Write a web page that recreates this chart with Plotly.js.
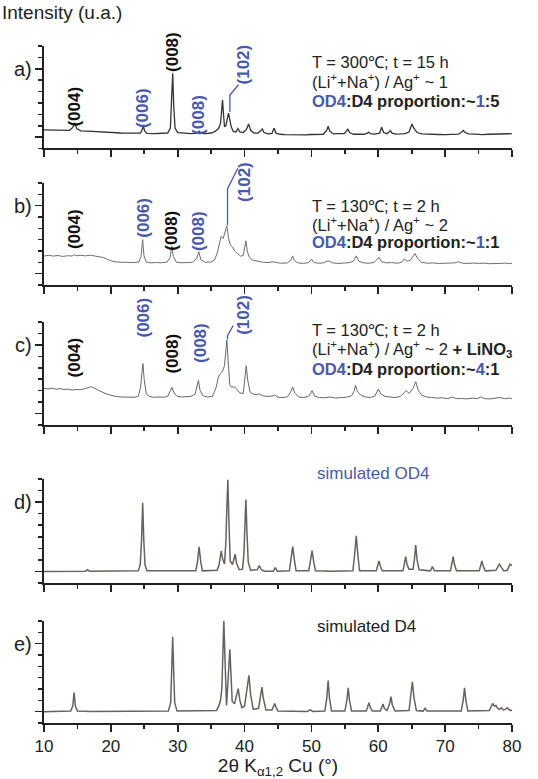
<!DOCTYPE html>
<html>
<head>
<meta charset="utf-8">
<script src="https://cdn.plot.ly/plotly-3.0.1.min.js"></script>
<style>html,body{margin:0;padding:0;background:#fff;}#chart{width:538px;height:779px;}</style>
</head>
<body>
<div id="chart"></div>
<script>
// ---- data (2θ, intensity in arbitrary stacked units) ----
const xTicks = [10, 20, 30, 40, 50, 60, 70, 80];
const panelLetters = ['a)', 'b)', 'c)', 'd)', 'e)'];

const patternA = [[10,0.64],[11,0.62],[12,0.63],[13,0.58],[13.8,0.6],[14.3,0.85],[14.6,1.25],[14.9,0.75],[15.5,0.55],[16.5,0.52],[17.5,0.48],[18.5,0.46],[19.5,0.42],[20.5,0.4],[21.5,0.36],[22.5,0.35],[23.5,0.33],[24.4,0.36],[24.65,0.6],[24.85,1.0],[25.05,0.55],[25.4,0.33],[26.5,0.3],[27.5,0.31],[28.5,0.36],[28.9,0.8],[29.1,3.2],[29.25,5.6],[29.4,2.8],[29.6,0.8],[30,0.4],[31,0.32],[32,0.3],[32.9,0.35],[33.2,0.52],[33.5,0.33],[34.2,0.3],[35,0.36],[35.6,0.5],[36.1,0.75],[36.4,1.2],[36.55,2.2],[36.7,3.28],[36.85,2.0],[37.0,0.9],[37.2,1.0],[37.4,1.5],[37.6,2.1],[37.8,1.5],[38.0,0.9],[38.3,0.5],[38.7,0.45],[39.0,0.75],[39.3,0.45],[39.8,0.4],[40.3,0.7],[40.6,1.16],[40.9,0.6],[41.4,0.35],[42.0,0.35],[42.4,0.55],[42.65,0.72],[42.9,0.4],[43.5,0.28],[44.1,0.32],[44.4,0.78],[44.7,0.35],[45.3,0.25],[46,0.22],[47,0.2],[48,0.22],[49,0.2],[50,0.23],[51,0.24],[51.8,0.25],[52.3,0.6],[52.5,0.96],[52.75,0.5],[53.3,0.28],[54,0.3],[54.9,0.3],[55.2,0.5],[55.45,0.72],[55.7,0.4],[56.3,0.25],[57,0.27],[57.8,0.25],[58.3,0.32],[58.55,0.43],[58.8,0.3],[59.5,0.26],[60.2,0.35],[60.5,0.87],[60.8,0.4],[61.3,0.3],[61.6,0.45],[61.8,0.58],[62.05,0.35],[62.6,0.27],[63.3,0.28],[64,0.3],[64.6,0.45],[64.9,1.0],[65.05,1.16],[65.3,0.8],[65.8,0.4],[66.5,0.28],[67.2,0.25],[68,0.22],[69,0.23],[70,0.22],[71,0.25],[72,0.27],[72.4,0.4],[72.7,0.58],[73,0.4],[73.5,0.28],[74.5,0.26],[75.5,0.22],[76.5,0.25],[77.5,0.27],[78.5,0.24],[79.5,0.27],[80,0.3]];

const patternB = [[10,1.55],[10.7,1.62],[11.4,1.55],[12.1,1.6],[12.8,1.52],[13.5,1.58],[14.2,1.56],[14.5,1.68],[14.8,1.58],[15.5,1.62],[16.2,1.57],[16.9,1.63],[17.6,1.56],[18.3,1.52],[18.9,1.42],[19.5,1.25],[20.2,1.1],[21,1.02],[21.8,1.0],[22.6,0.96],[23.4,0.98],[24.2,1.02],[24.5,1.5],[24.76,3.0],[24.95,1.6],[25.3,1.02],[26,0.95],[26.8,0.98],[27.6,0.96],[28.4,1.02],[28.85,1.4],[29.1,2.43],[29.35,1.5],[29.8,1.02],[30.6,0.96],[31.4,0.98],[32.2,1.0],[32.85,1.35],[33.15,1.94],[33.45,1.25],[34.1,1.0],[34.9,1.02],[35.5,1.2],[35.9,1.8],[36.2,2.7],[36.5,3.29],[36.8,3.1],[37.1,3.7],[37.35,4.23],[37.6,3.1],[37.9,2.5],[38.2,2.35],[38.6,1.95],[39.0,1.75],[39.4,1.55],[39.8,1.6],[40.05,2.3],[40.2,2.9],[40.4,2.0],[40.7,1.45],[41.2,1.2],[41.6,1.14],[42.1,1.05],[42.8,1.0],[43.5,0.98],[44.3,1.05],[44.9,0.96],[45.6,0.92],[46.4,0.95],[46.95,1.2],[47.2,1.57],[47.45,1.15],[48,0.95],[48.8,0.9],[49.6,0.98],[50.0,1.29],[50.35,1.0],[51,0.92],[51.8,0.95],[52.5,1.14],[53.2,0.95],[54,0.9],[54.8,0.93],[55.6,0.97],[56.3,1.1],[56.7,1.57],[57.1,1.1],[57.8,0.95],[58.6,0.92],[59.4,1.0],[60.1,1.43],[60.5,1.05],[61.2,0.95],[62,0.98],[62.8,0.92],[63.5,1.0],[63.9,1.3],[64.3,1.1],[64.8,1.2],[65.5,1.77],[65.9,1.3],[66.5,1.0],[67.3,0.92],[68.1,0.95],[69,0.9],[69.8,0.93],[70.6,0.9],[71.4,0.95],[72,1.05],[72.6,0.92],[73.4,0.9],[74.2,0.94],[75,0.9],[75.8,0.93],[76.6,0.88],[77.4,0.92],[78.2,0.9],[79,0.93],[79.6,0.88],[80,0.92]];

const patternC = [[10,2.2],[10.6,2.15],[11.2,2.22],[11.8,2.12],[12.4,2.18],[13,2.1],[13.6,2.14],[14.2,2.05],[14.8,2.1],[15.4,2.08],[16,2.15],[16.6,2.25],[17.1,2.35],[17.6,2.2],[18.2,2.0],[18.8,1.85],[19.4,1.7],[20,1.58],[20.7,1.5],[21.4,1.45],[22.1,1.42],[22.8,1.45],[23.5,1.42],[24.1,1.5],[24.45,2.3],[24.65,3.6],[24.8,4.36],[24.98,3.0],[25.3,1.7],[25.8,1.48],[26.5,1.42],[27.2,1.45],[27.9,1.42],[28.5,1.5],[28.9,1.9],[29.15,2.28],[29.45,1.8],[29.9,1.5],[30.6,1.45],[31.3,1.48],[32.0,1.5],[32.6,1.7],[32.9,2.3],[33.1,2.9],[33.35,2.0],[33.8,1.55],[34.5,1.45],[35.2,1.5],[35.7,2.2],[36.1,3.2],[36.4,3.5],[36.7,3.7],[37.0,4.2],[37.2,5.8],[37.35,6.44],[37.55,4.5],[37.8,2.5],[38.05,2.3],[38.3,2.35],[38.6,2.28],[38.9,2.1],[39.3,1.8],[39.8,1.75],[40.05,3.0],[40.25,4.17],[40.45,3.0],[40.8,1.9],[41.3,1.7],[41.8,1.65],[42.2,1.72],[42.7,1.55],[43.4,1.5],[44.1,1.52],[44.5,1.62],[44.9,1.45],[45.6,1.4],[46.4,1.45],[46.9,1.9],[47.2,2.33],[47.5,1.8],[48.1,1.45],[48.8,1.4],[49.6,1.5],[50.1,2.0],[50.5,1.5],[51.2,1.4],[52,1.38],[52.8,1.45],[53.6,1.35],[54.4,1.4],[55.2,1.42],[56,1.55],[56.35,1.9],[56.6,2.47],[56.9,1.9],[57.4,1.6],[58.1,1.45],[58.8,1.4],[59.5,1.55],[60,2.14],[60.4,1.7],[61,1.5],[61.8,1.45],[62.5,1.4],[63.3,1.5],[63.9,1.8],[64.2,2.0],[64.6,1.75],[65.2,2.2],[65.6,2.78],[66,2.0],[66.5,1.6],[67.2,1.45],[68,1.4],[68.8,1.35],[69.6,1.38],[70.4,1.3],[71.1,1.44],[71.7,1.3],[72.5,1.32],[73.3,1.28],[74.1,1.35],[74.8,1.3],[75.3,1.44],[75.9,1.3],[76.7,1.28],[77.5,1.32],[78.2,1.4],[78.9,1.3],[79.5,1.35],[80,1.32]];

const patternSimOD4 = [[10,0],[16.2,0.02],[16.5,0.15],[16.8,0.02],[24.1,0.05],[24.4,0.6],[24.6,2.8],[24.76,5.94],[24.92,2.8],[25.1,0.6],[25.4,0.05],[32.7,0.05],[32.95,0.8],[33.2,2.14],[33.45,0.8],[33.7,0.05],[35.9,0.1],[36.2,0.6],[36.5,1.77],[36.75,1.0],[37.0,0.65],[37.2,2.5],[37.35,5.5],[37.5,7.94],[37.65,4.5],[37.85,0.9],[38.2,0.6],[38.45,1.2],[38.6,1.49],[38.8,0.7],[39.2,0.15],[39.7,0.2],[39.9,1.5],[40.05,4.0],[40.2,6.23],[40.35,3.5],[40.55,0.8],[40.9,0.1],[41.9,0.15],[42.2,0.5],[42.5,0.15],[43.0,0.02],[44.3,0.02],[44.6,0.34],[44.9,0.02],[46.7,0.05],[46.95,1.0],[47.2,2.14],[47.45,1.0],[47.7,0.05],[49.6,0.05],[49.85,0.9],[50.1,1.8],[50.35,0.8],[50.6,0.05],[53,0.02],[56.2,0.05],[56.45,1.4],[56.7,3.09],[56.95,1.4],[57.2,0.05],[59.7,0.05],[59.9,0.5],[60.1,0.9],[60.35,0.4],[60.6,0.05],[63.7,0.05],[63.9,0.6],[64.1,1.29],[64.3,0.6],[64.6,0.2],[65.2,0.2],[65.4,1.0],[65.6,2.29],[65.8,1.0],[66.1,0.15],[67.8,0.05],[68.1,0.43],[68.4,0.05],[70.8,0.05],[71.0,0.6],[71.2,1.29],[71.4,0.6],[71.7,0.05],[75.1,0.05],[75.3,0.45],[75.5,0.9],[75.7,0.45],[76.0,0.05],[77.6,0.1],[77.9,0.45],[78.1,0.63],[78.4,0.35],[78.8,0.05],[79.3,0.1],[79.5,0.4],[79.7,0.63],[80,0.5]];

const patternSimD4 = [[10,0],[12.5,0.02],[14.0,0.05],[14.3,0.5],[14.5,1.68],[14.7,0.5],[15.0,0.05],[17,0.02],[28.6,0.05],[28.95,0.8],[29.1,3.5],[29.25,6.6],[29.4,3.5],[29.55,0.8],[29.9,0.05],[35.8,0.1],[36.2,0.6],[36.4,1.0],[36.6,2.0],[36.75,5.5],[36.9,8.06],[37.05,5.0],[37.2,1.5],[37.3,0.55],[37.5,2.5],[37.65,4.5],[37.8,5.5],[37.95,3.5],[38.15,0.9],[38.5,0.7],[38.8,1.4],[39.05,2.03],[39.3,1.0],[39.6,0.35],[40.0,0.5],[40.4,2.0],[40.65,3.2],[40.9,1.5],[41.3,0.2],[42.1,0.3],[42.4,1.4],[42.6,2.17],[42.8,1.2],[43.2,0.15],[44.1,0.15],[44.35,0.5],[44.5,0.72],[44.7,0.4],[45.0,0.05],[49.4,0.02],[49.8,0.15],[50.2,0.02],[52.0,0.05],[52.3,1.2],[52.5,2.75],[52.7,1.2],[53.0,0.05],[55.0,0.05],[55.3,1.0],[55.5,2.1],[55.7,1.0],[56.0,0.05],[58.2,0.05],[58.4,0.4],[58.6,0.8],[58.8,0.4],[59.1,0.05],[60.3,0.05],[60.55,0.45],[60.7,0.67],[60.9,0.3],[61.3,0.1],[61.7,0.7],[61.9,1.33],[62.1,0.6],[62.5,0.05],[64.6,0.1],[64.85,1.2],[65.1,2.64],[65.35,1.2],[65.7,0.1],[66.7,0.05],[67.0,0.3],[67.3,0.05],[72.4,0.05],[72.7,1.0],[72.9,2.1],[73.1,1.0],[73.4,0.05],[76.6,0.1],[76.9,0.55],[77.1,0.72],[77.35,0.5],[77.6,0.55],[77.85,0.3],[78.1,0.2],[78.4,0.35],[78.7,0.15],[79.0,0.2],[79.3,0.35],[79.6,0.15],[80,0.1]];

// peak labels: [text, 2θ, isOD4, yCenter]
const peakLabelsA = [['(004)',14.6,false,2.66],['(006)',24.85,true,2.57],['(008)',29.25,false,7.45],['(008)',33.2,true,1.96],['(102)',39.9,true,6.37]];
const peakLabelsB = [['(004)',14.5,false,3.94],['(006)',24.76,true,4.91],['(008)',29.1,false,3.77],['(008)',33.2,true,3.77],['(102)',39.9,true,8.09]];
const peakLabelsC = [['(004)',14.5,false,4.91],['(006)',24.9,true,8.36],['(008)',29.2,false,5.27],['(008)',33.3,true,6.15],['(102)',39.9,true,8.62]];

// ---- styling ----
const BLUE = '#4a5aaa';
const FONT = 'Liberation Sans, Arial, Helvetica, sans-serif';
const AX = '#222';
const YMIN = -1, YMAX = 8;

const panels = [
  {data: patternA, color: '#333333', width: 1.3, domain: [0.8486, 1]},
  {data: patternB, color: '#6e6e6e', width: 1.0, domain: [0.6470, 0.7976]},
  {data: patternC, color: '#686868', width: 1.0, domain: [0.4402, 0.5923]},
  {data: patternSimOD4, color: '#67625e', width: 1.5, domain: [0.2068, 0.3604]},
  {data: patternSimD4, color: '#67625e', width: 1.5, domain: [0, 0.1507]}
];
// helpers converting panel-data positions of annotations into paper coords (so they are never hidden/clipped)
const px = x => (x - 10) / 70;
const py = (i, y) => { const d = panels[i].domain; return d[0] + (y - YMIN) / (YMAX - YMIN) * (d[1] - d[0]); };

const traces = [];
const layout = {
  width: 538, height: 779,
  margin: {l: 44, r: 26, t: 46, b: 56},
  paper_bgcolor: '#fff', plot_bgcolor: '#fff',
  showlegend: false,
  font: {family: FONT, color: AX},
  annotations: [], shapes: []
};

panels.forEach((p, i) => {
  const n = i === 0 ? '' : String(i + 1);
  traces.push({
    x: p.data.map(d => d[0]), y: p.data.map(d => d[1]),
    xaxis: 'x' + n, yaxis: 'y' + n,
    type: 'scatter', mode: 'lines',
    line: {color: p.color, width: p.width},
    hoverinfo: 'skip'
  });
  const last = i === panels.length - 1;
  layout['xaxis' + n] = {
    domain: [0, 1], anchor: 'y' + n, range: [10, 80],
    tickmode: 'array', tickvals: xTicks, ticks: 'outside', ticklen: 7, tickwidth: 1.6, tickcolor: AX,
    minor: {tickmode: 'linear', tick0: 10, dtick: 5, ticks: 'outside', ticklen: 4, tickwidth: 1.6, tickcolor: AX, showgrid: false},
    showticklabels: last, tickfont: {size: 17, color: AX, family: FONT},
    showline: true, linewidth: 1.8, linecolor: AX, showgrid: false, zeroline: false,
    title: last ? {text: '2θ K<sub>α1,2</sub> Cu (°)', font: {size: 19, color: AX, family: FONT}, standoff: 4} : {text: ''}
  };
  layout['yaxis' + n] = {
    domain: p.domain, anchor: 'x' + n, range: [YMIN, YMAX],
    tickmode: 'array', tickvals: [0, 6], ticks: 'outside', ticklen: 7, tickwidth: 1.6, tickcolor: AX,
    minor: {tickmode: 'linear', tick0: 0, dtick: 1, ticks: 'outside', ticklen: 4, tickwidth: 1.6, tickcolor: AX, showgrid: false},
    showticklabels: false, showline: true, linewidth: 1.8, linecolor: AX, showgrid: false, zeroline: false
  };
  layout.annotations.push({
    text: panelLetters[i], xref: 'paper', yref: 'paper', x: -0.021, y: py(i, 6),
    xanchor: 'right', yanchor: 'middle', showarrow: false,
    font: {size: 20, color: AX, family: FONT}
  });
});

// axis caption
layout.annotations.push({
  text: 'Intensity (u.a.)', xref: 'paper', yref: 'paper', x: -0.094, y: 1.05,
  xanchor: 'left', yanchor: 'middle', showarrow: false, font: {size: 19, color: AX, family: FONT}
});

// peak labels
[peakLabelsA, peakLabelsB, peakLabelsC].forEach((labels, i) => {
  labels.forEach(([t, x, od4, y]) => {
    layout.annotations.push({
      text: '<b>' + t + '</b>', xref: 'paper', yref: 'paper', x: px(x), y: py(i, y),
      textangle: -90, xanchor: 'center', yanchor: 'middle', showarrow: false,
      font: {size: 17, color: od4 ? BLUE : '#111', family: FONT}
    });
  });
});

// condition texts
const b = s => `<span style="color:${BLUE}">${s}</span>`;
const cond = [
  [['T = 300℃; t = 15 h', '(Li<sup>+</sup>+Na<sup>+</sup>) / Ag<sup>+</sup> ~ 1', `<b>${b('OD4')}:D4 proportion:~${b('1')}:5</b>`], [6.63, 4.96, 3.19]],
  [['T = 130℃; t = 2 h', '(Li<sup>+</sup>+Na<sup>+</sup>) / Ag<sup>+</sup> ~ 2', `<b>${b('OD4')}:D4 proportion:~${b('1')}:1</b>`], [5.97, 4.38, 2.8]],
  [['T = 130℃; t = 2 h', '(Li<sup>+</sup>+Na<sup>+</sup>) / Ag<sup>+</sup> ~ 2 <b>+ LiNO<sub>3</sub></b>', `<b>${b('OD4')}:D4 proportion:~${b('4')}:1</b>`], [7.3, 5.62, 3.85]]
];
cond.forEach(([lines, ys], i) => {
  lines.forEach((t, k) => {
    layout.annotations.push({
      text: t, xref: 'paper', yref: 'paper', x: px(49.8), y: py(i, ys[k]),
      xanchor: 'left', yanchor: 'middle', showarrow: false,
      font: {size: 16.5, color: '#222', family: FONT}
    });
  });
});
layout.annotations.push({text: 'simulated OD4', xref: 'paper', yref: 'paper', x: px(50.6), y: py(3, 8.5), xanchor: 'left', yanchor: 'middle', showarrow: false, font: {size: 17, color: BLUE, family: FONT}});
layout.annotations.push({text: 'simulated D4', xref: 'paper', yref: 'paper', x: px(50.6), y: py(4, 7.5), xanchor: 'left', yanchor: 'middle', showarrow: false, font: {size: 17, color: '#222', family: FONT}});

// leader lines for (102)
const leaders = [
  [[39.1, 4.6], [37.8, 3.7], [37.8, 2.2]],
  [[39.0, 9.3], [37.45, 7.5], [37.45, 4.3]],
  [[38.3, 7.7], [37.45, 6.8], [37.45, 6.5]]
];
leaders.forEach((pts, i) => {
  const path = 'M ' + pts.map(q => px(q[0]) + ',' + py(i, q[1])).join(' L ');
  layout.shapes.push({type: 'path', xref: 'paper', yref: 'paper', path: path, line: {color: BLUE, width: 1.3}});
});

Plotly.newPlot('chart', traces, layout, {staticPlot: true, displayModeBar: false});
</script>
</body>
</html>
